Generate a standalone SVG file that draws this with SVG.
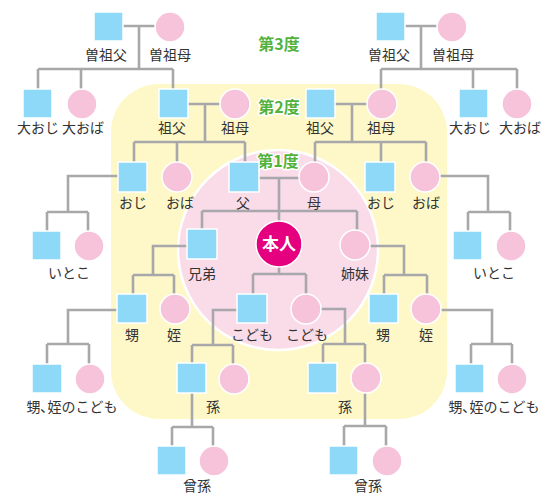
<svg xmlns="http://www.w3.org/2000/svg" width="548" height="494" viewBox="0 0 548 494">
<style>
.m{fill:#8ed8f8;stroke:#fff;stroke-width:1.5}
.f{fill:#f6c3da;stroke:#fff;stroke-width:1.5}
.c{fill:none;stroke:#a8a8aa;stroke-width:2.6}
text{font-family:"Noto Sans CJK JP","Noto Sans",sans-serif;font-size:14px;fill:#333;text-anchor:middle}
.deg{font-size:16px;font-weight:bold;fill:#52b23c;stroke:#fff;stroke-width:3;paint-order:stroke;stroke-linejoin:round}
</style>
<rect x="0" y="0" width="548" height="494" fill="#fff"/>
<rect x="111" y="84" width="336" height="335" rx="48" fill="#fef8c8"/>
<circle cx="278" cy="250" r="100" fill="#fadbe8" stroke="#fff" stroke-width="2.5"/>
<g id="connectors" class="c">
<path d="M123 26H155M139 26V69M38 69H173M38 69V89M81 69V89M173 69V89"/>
<path d="M405 26H437M421 26V69M381 69H517M381 69V89M473 69V89M517 69V89"/>
<path d="M188 104H220M205 104V142M134 142H245M134 142V162M177 142V162M245 142V162"/>
<path d="M335 104H367M352 104V142M315 142H426M315 142V162M381 142V162M426 142V162"/>
<path d="M118 176H68V212M47 212H88M47 212V231M88 212V231"/>
<path d="M440 176H488V212M468 212H510M468 212V231M510 212V231"/>
<path d="M259 178H299M279 178V221M202 211H357M202 211V229M357 211V230"/>
<path d="M279 267V274M253 274H306M253 274V294M306 274V294"/>
<path d="M187 246H153V275M133 275H174M133 275V294M174 275V294"/>
<path d="M370 246H404V275M384 275H427M384 275V294M427 275V294"/>
<path d="M117 310H68V344M47 344H89M47 344V364M89 344V364"/>
<path d="M441 310H492V344M471 344H512M471 344V364M512 344V364"/>
<path d="M237 310H213V345M192 345H233M192 345V363M233 345V364"/>
<path d="M321 309H345V344M323 344H365M323 344V363M365 344V364"/>
<path d="M192 393V427M172 427H213M172 427V446M213 427V446"/>
<path d="M365 393V426M344 426H386M344 426V446M386 426V446"/>
</g>
<text class="deg" x="279" y="50">第3度</text>
<text class="deg" x="279" y="113">第2度</text>
<text class="deg" x="278" y="167">第1度</text>
<g id="sofu-l"><rect class="m" x="94" y="12" width="29" height="29"/><text x="106" y="60">曽祖父</text></g>
<g id="sobo-l"><circle class="f" cx="170" cy="27" r="15"/><text x="170" y="60">曽祖母</text></g>
<g id="sofu-r"><rect class="m" x="376" y="12" width="29" height="29"/><text x="389" y="60">曽祖父</text></g>
<g id="sobo-r"><circle class="f" cx="452" cy="27" r="15"/><text x="453" y="60">曽祖母</text></g>
<g id="ooji-l"><rect class="m" x="23" y="89" width="29" height="29"/><text x="38" y="133">大おじ</text></g>
<g id="ooba-l"><circle class="f" cx="82" cy="104" r="15"/><text x="83" y="133">大おば</text></g>
<g id="gf-l"><rect class="m" x="159" y="89" width="29" height="29"/><text x="172" y="133">祖父</text></g>
<g id="gm-l"><circle class="f" cx="235" cy="104" r="15"/><text x="235" y="133">祖母</text></g>
<g id="gf-r"><rect class="m" x="306" y="89" width="29" height="29"/><text x="320" y="133">祖父</text></g>
<g id="gm-r"><circle class="f" cx="382" cy="104" r="15"/><text x="381" y="133">祖母</text></g>
<g id="ooji-r"><rect class="m" x="459" y="89" width="29" height="29"/><text x="470" y="133">大おじ</text></g>
<g id="ooba-r"><circle class="f" cx="517" cy="104" r="15"/><text x="520" y="133">大おば</text></g>
<g id="oji-l"><rect class="m" x="118" y="162" width="29" height="30"/><text x="133" y="208">おじ</text></g>
<g id="oba-l"><circle class="f" cx="177" cy="177" r="15"/><text x="180" y="208">おば</text></g>
<g id="chichi"><rect class="m" x="229" y="162" width="30" height="30"/><text x="243" y="208">父</text></g>
<g id="haha"><circle class="f" cx="314" cy="177" r="15"/><text x="314" y="208">母</text></g>
<g id="oji-r"><rect class="m" x="365" y="162" width="30" height="30"/><text x="381" y="208">おじ</text></g>
<g id="oba-r"><circle class="f" cx="425" cy="177" r="15"/><text x="426" y="208">おば</text></g>
<g id="itoko-l"><rect class="m" x="32" y="231" width="29" height="29"/><circle class="f" cx="89" cy="246" r="15"/><text x="69" y="278">いとこ</text></g>
<g id="itoko-r"><rect class="m" x="453" y="231" width="29" height="29"/><circle class="f" cx="511" cy="246" r="15"/><text x="494" y="278">いとこ</text></g>
<g id="honnin"><circle cx="279" cy="244" r="23" fill="#e4007f" stroke="#fff" stroke-width="1.5"/><text x="279" y="250" style="fill:#fff;font-size:17px;font-weight:bold">本人</text></g>
<g id="kyoudai"><rect class="m" x="187" y="229" width="30" height="30"/><text x="202" y="279">兄弟</text></g>
<g id="shimai"><circle class="f" cx="355" cy="245" r="15"/><text x="355" y="279">姉妹</text></g>
<g id="oi-l"><rect class="m" x="117" y="294" width="30" height="29"/><text x="132" y="340">甥</text></g>
<g id="mei-l"><circle class="f" cx="175" cy="309" r="15"/><text x="174" y="340">姪</text></g>
<g id="kodomo-m"><rect class="m" x="237" y="294" width="30" height="29"/><text x="252" y="340">こども</text></g>
<g id="kodomo-f"><circle class="f" cx="306" cy="309" r="15"/><text x="307" y="340">こども</text></g>
<g id="oi-r"><rect class="m" x="369" y="294" width="29" height="29"/><text x="383" y="340">甥</text></g>
<g id="mei-r"><circle class="f" cx="426" cy="309" r="15"/><text x="426" y="340">姪</text></g>
<g id="oimeiko-l"><rect class="m" x="32" y="364" width="30" height="29"/><circle class="f" cx="90" cy="379" r="15"/><text x="72" y="412">甥､姪のこども</text></g>
<g id="mago-l"><rect class="m" x="177" y="363" width="29" height="30"/><circle class="f" cx="234" cy="379" r="15"/><text x="213" y="412">孫</text></g>
<g id="mago-r"><rect class="m" x="308" y="363" width="29" height="30"/><circle class="f" cx="366" cy="378" r="15"/><text x="345" y="412">孫</text></g>
<g id="oimeiko-r"><rect class="m" x="455" y="364" width="29" height="29"/><circle class="f" cx="512" cy="379" r="15"/><text x="494" y="412">甥､姪のこども</text></g>
<g id="himago-l"><rect class="m" x="157" y="446" width="29" height="29"/><circle class="f" cx="214" cy="461" r="15"/><text x="197" y="491">曾孫</text></g>
<g id="himago-r"><rect class="m" x="329" y="446" width="29" height="29"/><circle class="f" cx="387" cy="461" r="15"/><text x="368" y="491">曾孫</text></g>
</svg>
